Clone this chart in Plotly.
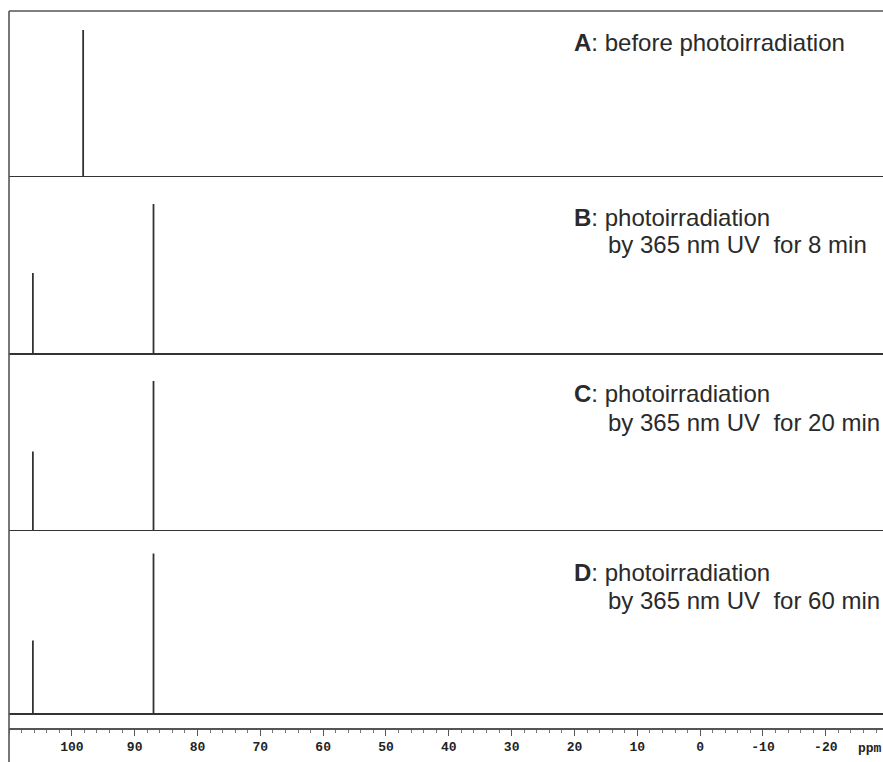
import plotly.graph_objects as go

# ---- data (ppm, relative intensity) ----
panel_names = ["A", "B", "C", "D"]
peak_ppm_A = [98.2]
peak_int_A = [98]
peak_ppm_B = [106.2, 87.0]
peak_int_B = [54, 100]
peak_ppm_C = [106.2, 87.0]
peak_int_C = [53, 100]
peak_ppm_D = [106.2, 87.0]
peak_int_D = [49, 107]
label_line1 = [": before photoirradiation", ": photoirradiation", ": photoirradiation", ": photoirradiation"]
label_line2 = ["", "by 365 nm UV  for 8 min", "by 365 nm UV  for 20 min", "by 365 nm UV  for 60 min"]
tick_vals = [100, 90, 80, 70, 60, 50, 40, 30, 20, 10, 0, -10, -20]
tick_text = ["100", "90", "80", "70", "60", "50", "40", "30", "20", "10", "0", "-10", "-20"]
x_left, x_right = 110.0, -29.1

peaks = [(peak_ppm_A, peak_int_A), (peak_ppm_B, peak_int_B),
         (peak_ppm_C, peak_int_C), (peak_ppm_D, peak_int_D)]

# ---- layout geometry (pixels) ----
W, H = 883, 762
ml, mt, mb = 9, 11, 33
plot_h = H - mt - mb          # 718
bottom_px = H - mb            # 729
baseline_px = [177, 354, 531, 714]
top_px = [11, 177, 354, 531]
k = 1.5    # px per intensity unit
pad = 3    # units below baseline

def py(p):
    return (bottom_px - p) / plot_h

def px(p):
    return (p - ml) / (W - ml)

fig = go.Figure()
col = "#333333"
for i, (pp, ii) in enumerate(peaks):
    xs = [x_left]
    ys = [0]
    for p, h in sorted(zip(pp, ii), reverse=True):
        xs += [p, p, p]
        ys += [0, h, 0]
    xs.append(x_right)
    ys.append(0)
    fig.add_trace(go.Scatter(x=xs, y=ys, mode="lines", line=dict(color=col, width=1.8),
                             xaxis="x", yaxis="y" if i == 0 else f"y{i+1}",
                             showlegend=False, hoverinfo="skip"))

layout = dict(
    width=W, height=H,
    margin=dict(l=ml, r=0, t=mt, b=mb, pad=0),
    paper_bgcolor="white", plot_bgcolor="white",
    showlegend=False,
    xaxis=dict(range=[x_left, x_right], anchor="free", position=0,
               showline=True, linecolor="#555", linewidth=1.5,
               showgrid=False, zeroline=False,
               ticks="outside", ticklen=6, tickwidth=1.2, tickcolor="#555",
               tickvals=tick_vals, ticktext=tick_text,
               tickfont=dict(family="Liberation Mono", size=13, color="#222", weight="bold"),
               minor=dict(dtick=2, ticks="outside", ticklen=3, tickcolor="#777", tickwidth=1),
               ),
)
for i in range(4):
    b = baseline_px[i]
    t = top_px[i]
    key = "yaxis" if i == 0 else f"yaxis{i+1}"
    layout[key] = dict(domain=[py(b + pad * k), py(t)], range=[-pad, (b - t) / k],
                       visible=False, fixedrange=True)
fig.update_layout(**layout)

# borders
fig.add_shape(type="line", xref="paper", yref="paper", x0=0, x1=1, y0=1, y1=1,
              line=dict(color="#555", width=1.6))
fig.add_shape(type="line", xref="paper", yref="paper", x0=0, x1=0, y0=1, y1=py(H),
              line=dict(color="#555", width=1.6))

# labels
label_y1 = [42, 217, 393, 572]
label_y2 = [None, 245, 422, 600]
fnt = dict(family="Liberation Sans, Arial, sans-serif", size=24, color="#2a2a2a")
for i, name in enumerate(panel_names):
    fig.add_annotation(xref="paper", yref="paper", x=px(572), y=py(label_y1[i]),
                       xanchor="left", yanchor="middle", showarrow=False,
                       text=f"<b>{name}</b>{label_line1[i]}", font=fnt)
    if label_line2[i]:
        fig.add_annotation(xref="paper", yref="paper", x=px(606), y=py(label_y2[i]),
                           xanchor="left", yanchor="middle", showarrow=False,
                           text=label_line2[i].replace("  ", "&nbsp; "), font=fnt)

fig.add_annotation(xref="paper", yref="paper", x=px(856), y=py(748),
                   xanchor="left", yanchor="middle", showarrow=False,
                   text="ppm", font=dict(family="Liberation Mono", size=13, color="#222", weight="bold"))

fig.write_html("out.html")
